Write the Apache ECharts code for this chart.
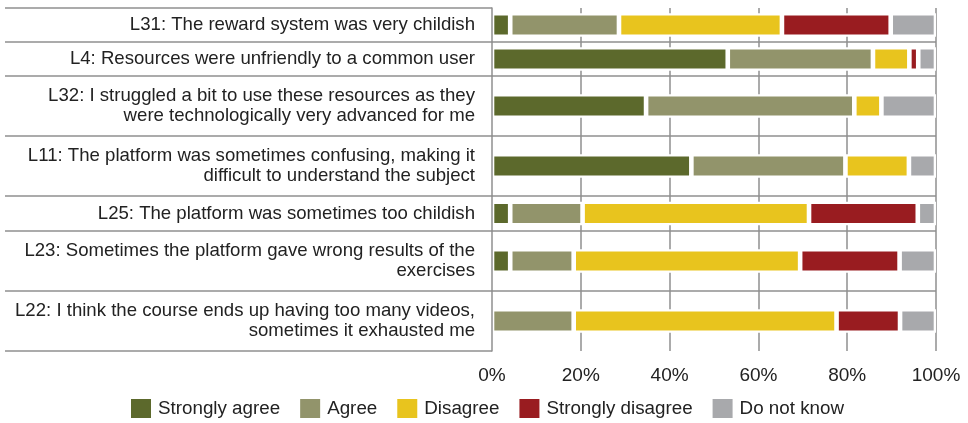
<!DOCTYPE html>
<html>
<head>
<meta charset="utf-8">
<script src="https://cdn.jsdelivr.net/npm/echarts@6/dist/echarts.min.js"></script>
<style>html,body{margin:0;padding:0;background:#fff}#c{width:968px;height:423px}</style>
</head>
<body>
<div id="c"></div>
<script>
// ---- data ----
var categories = [
  "L31: The reward system was very childish",
  "L4: Resources were unfriendly to a common user",
  "L32: I struggled a bit to use these resources as they\nwere technologically very advanced for me",
  "L11: The platform was sometimes confusing, making it\ndifficult to understand the subject",
  "L25: The platform was sometimes too childish",
  "L23: Sometimes the platform gave wrong results of the\nexercises",
  "L22: I think the course ends up having too many videos,\nsometimes it exhausted me"
];
var seriesNames = ["Strongly agree", "Agree", "Disagree", "Strongly disagree", "Do not know"];
var stronglyAgree    = [4.1, 53.1, 34.7, 44.9,  4.1,  4.1,  0.0];
var agree            = [24.5, 32.7, 46.9, 34.7, 16.3, 14.3, 18.4];
var disagree         = [36.7,  8.2,  6.1, 14.3, 51.0, 51.0, 59.2];
var stronglyDisagree = [24.5,  2.0,  0.0,  0.0, 24.5, 22.4, 14.3];
var doNotKnow        = [10.2,  4.0, 12.3,  6.1,  4.1,  8.2,  8.1];
var tickLabels = ["0%", "20%", "40%", "60%", "80%", "100%"];

// ---- layout (not data) ----
var rowEdges = [8, 42, 76, 136, 196, 231, 291, 351];
var plotLeft = 492, plotRight = 936, tableLeft = 5;
var colors = ["#5c692c", "#92946b", "#e8c41e", "#991c20", "#a8a9ac"];
var lineColor = "#8f8f8f";
var font = "'Liberation Sans', Arial, sans-serif";

var valueSets = [stronglyAgree, agree, disagree, stronglyDisagree, doNotKnow];
var grids = [], xAxes = [], yAxes = [], series = [];
categories.forEach(function (cat, i) {
  var isLast = i === categories.length - 1;
  grids.push({ left: plotLeft, width: plotRight - plotLeft, top: rowEdges[i], height: rowEdges[i + 1] - rowEdges[i], containLabel: false });
  xAxes.push({
    type: 'value', gridIndex: i, min: 0, max: 100, interval: 20,
    axisLine: { show: false }, axisTick: { show: false },
    splitLine: { show: true, showMinLine: false, lineStyle: { color: lineColor, width: 1.5 } },
    axisLabel: {
      show: isLast, margin: 15, fontSize: 19, color: '#222', fontFamily: font,
      formatter: function (v) { return tickLabels[Math.round(v / 20)]; }
    }
  });
  yAxes.push({
    type: 'category', gridIndex: i, data: [cat], z: 5,
    axisLine: { show: true, lineStyle: { color: lineColor, width: 1.5 } },
    axisTick: { show: false }, splitLine: { show: false },
    axisLabel: { margin: 17, fontSize: 18.6, lineHeight: 20, color: '#222', fontFamily: font, align: 'right' }
  });
  seriesNames.forEach(function (name, k) {
    var v = valueSets[k][i];
    series.push({
      type: 'bar', name: name, xAxisIndex: i, yAxisIndex: i, stack: 'row' + i,
      barWidth: 23.6, data: [v === 0 ? null : v],
      itemStyle: { color: colors[k], borderColor: '#fff', borderWidth: 2.3 },
      emphasis: { disabled: true }, silent: true
    });
  });
});

// table lines (decoration)
var graphics = [];
rowEdges.forEach(function (y, i) {
  var full = i > 0 && i < rowEdges.length - 1;
  graphics.push({
    type: 'line', z: 1, silent: true,
    shape: { x1: tableLeft, y1: y, x2: full ? plotRight : plotLeft, y2: y },
    style: { stroke: lineColor, lineWidth: 1.5 }
  });
});

var chart = echarts.init(document.getElementById('c'), null, { renderer: 'canvas' });
chart.setOption({
  animation: false,
  backgroundColor: '#fff',
  color: colors,
  textStyle: { fontFamily: font },
  grid: grids, xAxis: xAxes, yAxis: yAxes, series: series,
  graphic: graphics,
  legend: {
    data: seriesNames, left: 129, top: 397, padding: 0, itemWidth: 22, itemHeight: 21, itemGap: 18,
    icon: 'rect', selectedMode: false,
    textStyle: { fontSize: 18.8, color: '#222', fontFamily: font, padding: [0, 0, 0, 1] }
  }
});
</script>
</body>
</html>
